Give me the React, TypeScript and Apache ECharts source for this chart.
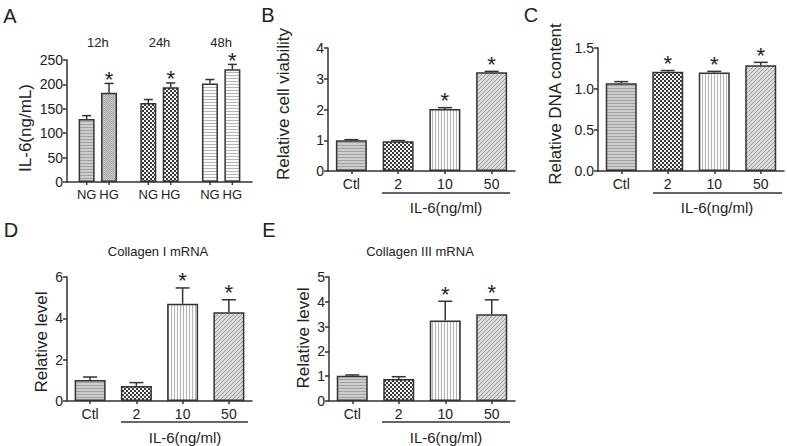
import React, { useEffect, useRef } from 'react';
import * as echarts from 'echarts';

// ---------- data ----------
const timeCats = ['12h', '24h', '48h'];
const ngValues = [129, 162, 202];
const ngErrors = [7, 7, 8];
const ngSig = [false, false, false];
const hgValues = [183, 194, 231];
const hgErrors = [19, 9, 10];
const hgSig = [true, true, true];

const doseCats = ['Ctl', '2', '10', '50'];

const viabilityValues = [1.0, 0.97, 2.02, 3.21];
const viabilityErrors = [0.02, 0.02, 0.04, 0.03];
const viabilitySig = [false, false, true, true];

const dnaValues = [1.07, 1.21, 1.2, 1.29];
const dnaErrors = [0.02, 0.015, 0.015, 0.035];
const dnaSig = [false, true, true, true];

const col1Values = [1.02, 0.73, 4.71, 4.29];
const col1Errors = [0.14, 0.16, 0.76, 0.61];
const col1Sig = [false, false, true, true];

const col3Values = [1.02, 0.89, 3.25, 3.5];
const col3Errors = [0.03, 0.09, 0.77, 0.58];
const col3Sig = [false, false, true, true];

// ---------- style ----------
const FONT = '"Liberation Sans", Arial, sans-serif';
const INK = '#222';
const LINE = '#333';

function makePattern(kind: string): any {
  const c = document.createElement('canvas');
  let w = 4, h = 4;
  if (kind === 'hgray') { w = 4; h = 3; }
  if (kind === 'grain') { w = 2; h = 2; }
  if (kind === 'vlines') { w = 3; h = 1; }
  if (kind === 'hlight') { w = 1; h = 3; }
  c.width = w; c.height = h;
  const ctx = c.getContext('2d')!;
  const px = (x: number, y: number, col: string) => { ctx.fillStyle = col; ctx.fillRect(x, y, 1, 1); };
  if (kind === 'hgray') {
    ctx.fillStyle = '#cdcdcd'; ctx.fillRect(0, 0, w, h);
    ctx.fillStyle = '#a2a2a2'; ctx.fillRect(0, 1, w, 1);
  } else if (kind === 'grain') {
    ctx.fillStyle = '#d0d0d0'; ctx.fillRect(0, 0, w, h);
    px(0, 0, '#a2a2a2'); px(1, 1, '#a2a2a2');
  } else if (kind === 'checker') {
    ctx.fillStyle = '#f6f6f6'; ctx.fillRect(0, 0, w, h);
    ctx.fillStyle = '#3a3a3a'; ctx.fillRect(0, 0, 2, 2); ctx.fillRect(2, 2, 2, 2);
  } else if (kind === 'vlines') {
    ctx.fillStyle = '#fbfbfb'; ctx.fillRect(0, 0, w, h);
    px(0, 0, '#b4b4b4');
  } else if (kind === 'diag') {
    ctx.fillStyle = '#dcdcdc'; ctx.fillRect(0, 0, w, h);
    for (let i = 0; i < 4; i++) px(i, 3 - i, '#9a9a9a');
  } else if (kind === 'hlight') {
    ctx.fillStyle = '#fbfbfb'; ctx.fillRect(0, 0, w, h);
    px(0, 0, '#b4b4b4');
  }
  return { image: c, repeat: 'repeat', imageWidth: w, imageHeight: h };
}

function valueAxis(gridIndex: number, max: number, interval: number, decimals = 0): any {
  return {
    type: 'value', gridIndex, min: 0, max, interval,
    axisLine: { show: true, lineStyle: { color: LINE, width: 1.5 } },
    axisTick: { show: true, length: 4, lineStyle: { color: LINE, width: 1.5 } },
    axisLabel: {
      fontSize: 14, color: INK, fontFamily: FONT, margin: 4,
      formatter: (v: number) => v.toFixed(decimals),
    },
    splitLine: { show: false },
  };
}

function catAxis(gridIndex: number, data: string[], showTick = true): any {
  return {
    type: 'category', gridIndex, data,
    axisLine: { show: true, lineStyle: { color: LINE, width: 1.5 } },
    axisTick: { show: showTick, alignWithLabel: true, length: 3, lineStyle: { color: LINE, width: 1.5 } },
    axisLabel: { show: showTick, fontSize: 14, color: INK, fontFamily: FONT, margin: 6 },
    splitLine: { show: false },
  };
}

function errorSeries(axisIndex: number, values: number[], errors: number[], sig: boolean[],
  offset: number, capW: number, starGap: number, baseTick = false): any {
  return {
    type: 'custom',
    xAxisIndex: axisIndex, yAxisIndex: axisIndex,
    z: 5,
    silent: true,
    data: values.map((v, i) => [i, v, errors[i], sig[i] ? 1 : 0]),
    renderItem: (_params: any, api: any) => {
      const idx = api.value(0);
      const m = api.value(1);
      const e = api.value(2);
      const s = api.value(3);
      const base = api.coord([idx, m]);
      const top = api.coord([idx, m + e]);
      const zero = api.coord([idx, 0]);
      const cx = base[0] + offset;
      const children: any[] = [
        { type: 'line', shape: { x1: cx, y1: base[1], x2: cx, y2: top[1] }, style: { stroke: LINE, lineWidth: 1.5 } },
        { type: 'line', shape: { x1: cx - capW / 2, y1: top[1], x2: cx + capW / 2, y2: top[1] }, style: { stroke: LINE, lineWidth: 1.5 } },
      ];
      if (baseTick) {
        children.push({ type: 'line', shape: { x1: cx, y1: zero[1], x2: cx, y2: zero[1] + 3 }, style: { stroke: LINE, lineWidth: 1.5 } });
      }
      if (s) {
        children.push({
          type: 'text', x: cx, y: top[1] - starGap,
          style: { text: '*', fontSize: 22, fontFamily: FONT, fill: INK, align: 'center', verticalAlign: 'middle' },
        });
      }
      return { type: 'group', children };
    },
  };
}

function doseBars(axisIndex: number, values: number[], pats: any[]): any {
  return {
    type: 'bar', xAxisIndex: axisIndex, yAxisIndex: axisIndex,
    barWidth: 31,
    data: values.map((v, i) => ({ value: v, itemStyle: { color: pats[i] } })),
    itemStyle: { borderColor: LINE, borderWidth: 1.5 },
  };
}

function rotText(x: number, y: number, text: string, size = 17): any {
  return {
    type: 'text', x, y, rotation: Math.PI / 2,
    style: { text, fontSize: size, fontFamily: FONT, fill: INK, align: 'center', verticalAlign: 'middle' },
  };
}
function hText(x: number, y: number, text: string, size: number, weight: any = 'normal'): any {
  return {
    type: 'text', x, y,
    style: { text, fontSize: size, fontWeight: weight, fontFamily: FONT, fill: INK, align: 'center', verticalAlign: 'middle' },
  };
}
function underline(x1: number, x2: number, y: number): any {
  return { type: 'line', shape: { x1, y1: y, x2, y2: y }, style: { stroke: LINE, lineWidth: 1.5 } };
}

export default function App() {
  const ref = useRef<HTMLDivElement>(null);
  useEffect(() => {
    if (!ref.current) return;
    const chart = echarts.init(ref.current, undefined, { renderer: 'svg' });
    const P = {
      hgray: makePattern('hgray'), grain: makePattern('grain'), checker: makePattern('checker'),
      vlines: makePattern('vlines'), diag: makePattern('diag'), hlight: makePattern('hlight'),
    };
    const dosePats = [P.hgray, P.checker, P.vlines, P.diag];
    const ngPats = [P.hgray, P.checker, P.hlight];
    const hgPats = [P.grain, P.checker, P.hlight];

    const option: any = {
      animation: false,
      backgroundColor: '#fff',
      grid: [
        { left: 67, top: 60, width: 185, height: 122 },   // A
        { left: 328, top: 48, width: 187, height: 123 },  // B
        { left: 598, top: 48, width: 186, height: 123 },  // C
        { left: 67, top: 277, width: 185, height: 124 },  // D
        { left: 329, top: 277, width: 186, height: 124 }, // E
      ],
      xAxis: [
        catAxis(0, timeCats, false),
        catAxis(1, doseCats),
        catAxis(2, doseCats),
        catAxis(3, doseCats),
        catAxis(4, doseCats),
        {
          type: 'category', gridIndex: 0, data: timeCats, position: 'top',
          axisLine: { show: false }, axisTick: { show: false },
          axisLabel: { fontSize: 13, color: INK, fontFamily: FONT, margin: 11 },
        },
      ],
      yAxis: [
        valueAxis(0, 250, 50),
        valueAxis(1, 4, 1),
        valueAxis(2, 1.5, 0.5, 1),
        valueAxis(3, 6, 2),
        valueAxis(4, 5, 1),
      ],
      series: [
        {
          type: 'bar', name: 'NG', xAxisIndex: 0, yAxisIndex: 0, barWidth: 16, barGap: '40%',
          data: ngValues.map((v, i) => ({ value: v, itemStyle: { color: ngPats[i] } })),
          itemStyle: { borderColor: LINE, borderWidth: 1.5 },
          label: { show: true, position: 'bottom', distance: 6, formatter: '{a}', fontSize: 13, color: INK, fontFamily: FONT },
        },
        {
          type: 'bar', name: 'HG', xAxisIndex: 0, yAxisIndex: 0, barWidth: 16, barGap: '40%',
          data: hgValues.map((v, i) => ({ value: v, itemStyle: { color: hgPats[i] } })),
          itemStyle: { borderColor: LINE, borderWidth: 1.5 },
          label: { show: true, position: 'bottom', distance: 6, formatter: '{a}', fontSize: 13, color: INK, fontFamily: FONT },
        },
        errorSeries(0, ngValues, ngErrors, ngSig, -11.2, 9, 4, true),
        errorSeries(0, hgValues, hgErrors, hgSig, 11.2, 9, 4, true),
        doseBars(1, viabilityValues, dosePats),
        errorSeries(1, viabilityValues, viabilityErrors, viabilitySig, 0, 14, 7),
        doseBars(2, dnaValues, dosePats),
        errorSeries(2, dnaValues, dnaErrors, dnaSig, 0, 14, 7),
        doseBars(3, col1Values, dosePats),
        errorSeries(3, col1Values, col1Errors, col1Sig, 0, 14, 7),
        doseBars(4, col3Values, dosePats),
        errorSeries(4, col3Values, col3Errors, col3Sig, 0, 14, 7),
      ],
      graphic: [
        hText(10, 16, 'A', 20), hText(268, 15, 'B', 20), hText(531, 15, 'C', 20),
        hText(11, 230, 'D', 20), hText(269, 230, 'E', 20),
        rotText(25, 128, 'IL-6(ng/mL)'),
        rotText(283, 104, 'Relative cell viability'),
        rotText(555, 104, 'Relative DNA content'),
        rotText(41, 342, 'Relative level'),
        rotText(303, 338, 'Relative level'),
        hText(158, 251, 'Collagen I mRNA', 13),
        hText(420, 251, 'Collagen III mRNA', 13),
        underline(382, 510, 193), hText(446, 207, 'IL-6(ng/ml)', 15),
        underline(653, 782, 193), hText(717, 207, 'IL-6(ng/ml)', 15),
        underline(121, 248, 422), hText(185, 437, 'IL-6(ng/ml)', 15),
        underline(382, 510, 422), hText(446, 437, 'IL-6(ng/ml)', 15),
      ],
    };
    chart.setOption(option);
    return () => chart.dispose();
  }, []);
  return <div ref={ref} style={{ position: 'fixed', left: 0, top: 0, width: 787, height: 446, background: '#fff' }} />;
}
